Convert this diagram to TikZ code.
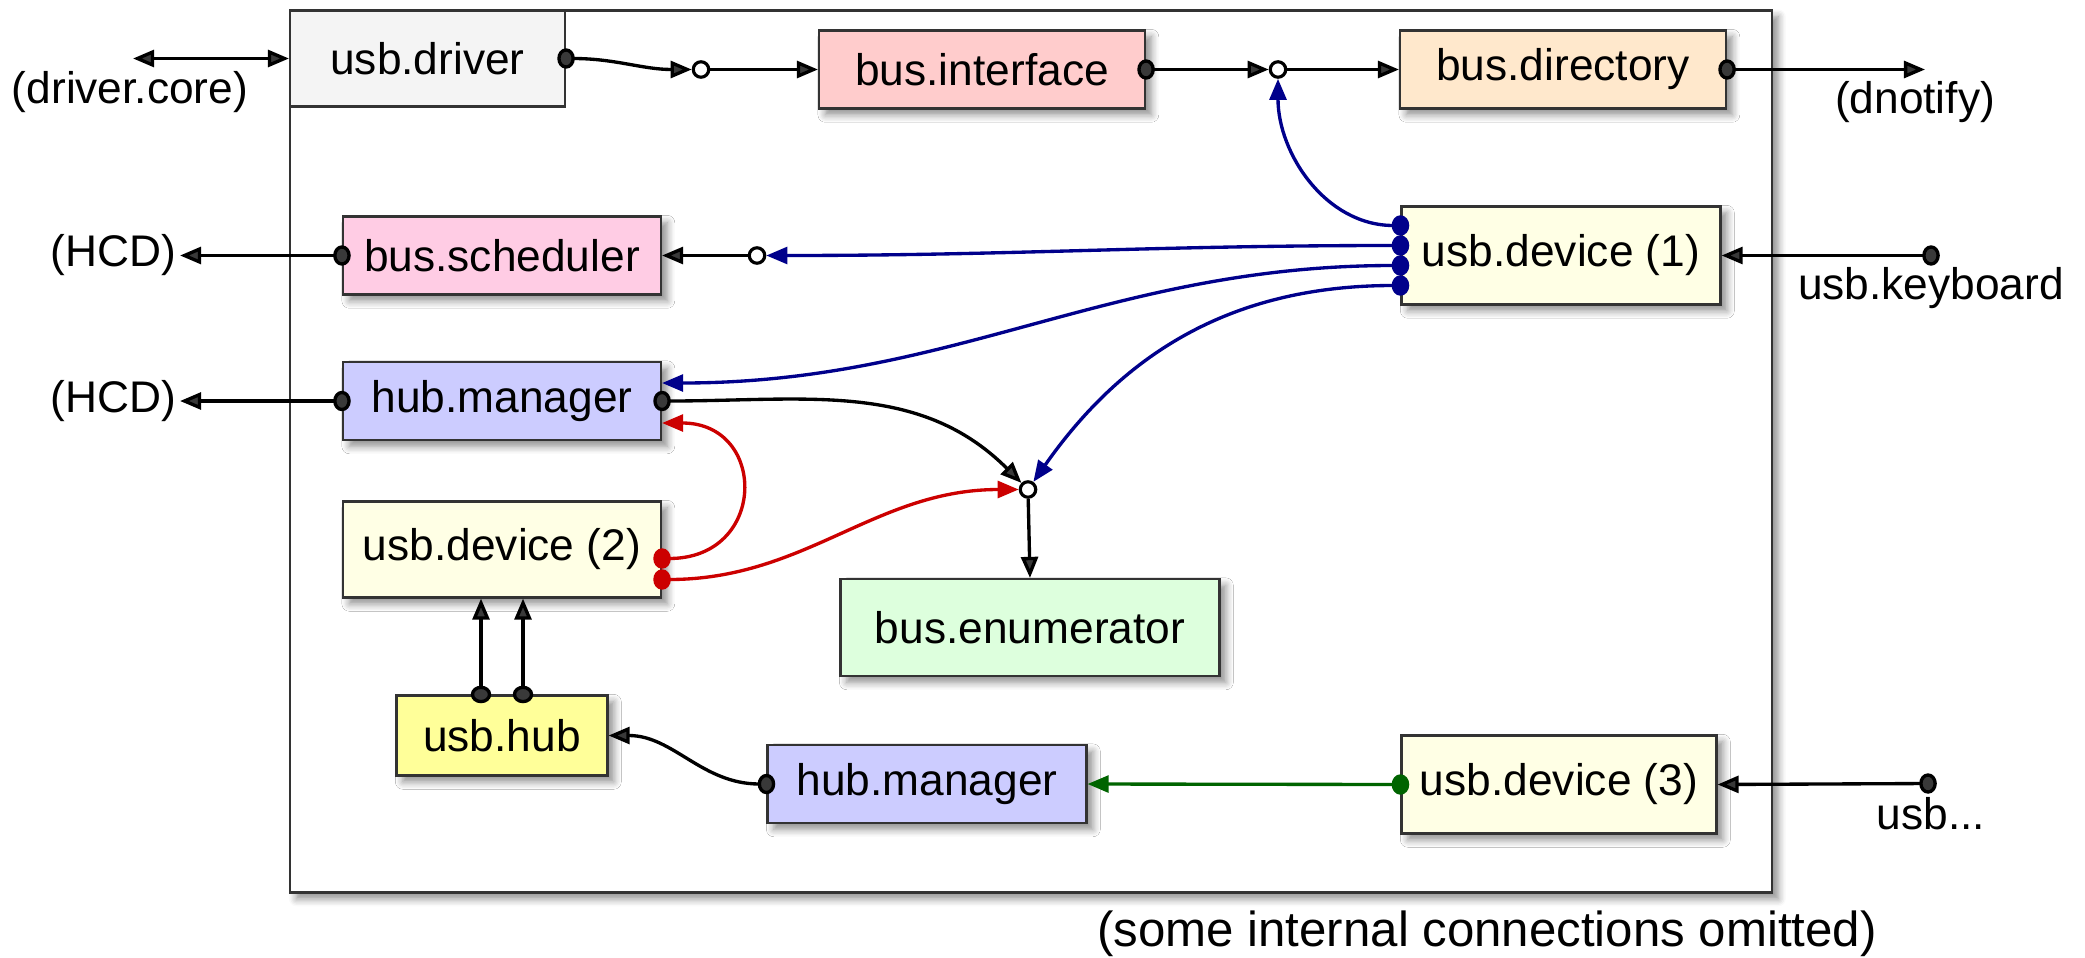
\documentclass[tikz,border=0pt]{standalone}
\usepackage{fontspec}
\setmainfont{Liberation Sans}
\usetikzlibrary{arrows.meta, shadows.blur}

\definecolor{drvfill}{HTML}{F4F4F4}
\definecolor{ifacefill}{HTML}{FFCCCC}
\definecolor{dirfill}{HTML}{FFE8CC}
\definecolor{schedfill}{HTML}{FFCCE4}
\definecolor{hubmfill}{HTML}{CCCCFF}
\definecolor{devfill}{HTML}{FFFFE5}
\definecolor{enumfill}{HTML}{DDFFDD}
\definecolor{hubfill}{HTML}{FFFF99}
\definecolor{linkblue}{HTML}{00008B}
\definecolor{linkred}{HTML}{CC0000}
\definecolor{linkgreen}{HTML}{006400}

\tikzset{
  box/.style={draw=black!80, line width=0.6pt, minimum width=3.18cm,
    minimum height=0.78cm, inner sep=2pt, font=\fontsize{12.6}{15}\selectfont},
  lifted/.style={box, blur shadow={shadow xshift=1.8pt, shadow yshift=-1.8pt,
    shadow blur steps=6, shadow opacity=45}},
  jn/.style={circle, draw, fill=white, line width=0.9pt, inner sep=0pt, minimum size=4.4pt},
  wire/.style={line width=0.95pt, -{Triangle[length=6pt,width=4.8pt]}},
  plug/.style={line width=0.95pt, {Ellipse[length=5pt,width=5.8pt]}-{Triangle[length=6pt,width=4.8pt]},
    shorten <=-2.5pt},
  lbl/.style={font=\fontsize{12.6}{15}\selectfont, inner sep=1pt},
}

\begin{document}
\begin{tikzpicture}
  \useasboundingbox (0,0) rectangle (20.85,9.575);

  % the usb core frame
  \path[draw=black!80, line width=0.6pt, fill=white,
    blur shadow={shadow xshift=1.8pt, shadow yshift=-1.8pt, shadow blur steps=6, shadow opacity=45}]
    (2.90,0.65) rectangle (17.72,9.47);

  % boxes
  \node[box, fill=drvfill, minimum width=2.75cm, minimum height=0.96cm] (drv) at (4.275,8.99) {usb.driver};
  \node[lifted, fill=ifacefill, minimum width=3.26cm] (iface) at (9.82,8.88) {bus.interface};
  \node[lifted, fill=dirfill, minimum width=3.26cm] (dir) at (15.63,8.88) {bus.directory};
  \node[lifted, fill=schedfill] (sched) at (5.02,7.02) {bus.scheduler};
  \node[lifted, fill=devfill, minimum width=3.19cm, minimum height=0.98cm] (dev1) at (15.61,7.02) {usb.device (1)};
  \node[lifted, fill=hubmfill] (hubA) at (5.02,5.565) {hub.manager};
  \node[lifted, fill=devfill, minimum height=0.96cm] (dev2) at (5.02,4.08) {usb.device (2)};
  \node[lifted, fill=enumfill, minimum width=3.79cm, minimum height=0.97cm] (enum) at (10.30,3.30) {bus.enumerator};
  \node[lifted, fill=hubfill, minimum width=2.11cm, minimum height=0.80cm] (hub) at (5.02,2.22) {usb.hub};
  \node[lifted, fill=hubmfill, minimum width=3.19cm] (hubB) at (9.27,1.735) {hub.manager};
  \node[lifted, fill=devfill, minimum width=3.15cm, minimum height=0.98cm] (dev3) at (15.59,1.73) {usb.device (3)};

  % junctions
  \node[jn] (J1) at (7.01,8.88) {};
  \node[jn] (J2) at (12.78,8.88) {};
  \node[jn] (J4) at (7.57,7.02) {};
  \node[jn] (J3) at (10.28,4.68) {};

  % outside ends
  \coordinate (core) at (1.33,8.99);
  \coordinate (dnot) at (19.25,8.88);
  \coordinate (kbd) at (19.31,7.02);
  \coordinate (usbx) at (19.28,1.74);
  \node[lbl, anchor=north] (coreL) at (1.30,8.90) {(driver.core)};
  \node[lbl, anchor=north] (dnotL) at (19.15,8.80) {(dnotify)};
  \node[lbl, anchor=east] (hcdA) at (1.80,7.02) {(HCD)};
  \node[lbl, anchor=east] (hcdB) at (1.80,5.565) {(HCD)};
  \node[lbl, anchor=north] (kbdL) at (19.31,6.94) {usb.keyboard};
  \node[lbl, anchor=north] (usbxL) at (19.31,1.64) {usb...};
  \node[font=\fontsize{14}{17}\selectfont] (omit) at (14.87,0.24) {(some internal connections omitted)};

  % top row
  \draw[line width=0.95pt, {Triangle[length=6pt,width=4.8pt]}-{Triangle[length=6pt,width=4.8pt]}] (core) -- (drv.west);
  \draw[plug] (drv.east) to[out=0,in=180] (J1);
  \draw[wire] (J1) -- (iface.west);
  \draw[plug] (iface.east) -- (J2);
  \draw[wire] (J2) -- (dir.west);
  \draw[plug] (dir.east) -- (dnot);

  % host controller side
  \draw[wire] (J4) -- (sched.east);
  \draw[plug] (sched.west) -- (hcdA.east);
  \draw[plug] (hubA.west) -- (hcdB.east);

  % usb.device (1)
  \draw[plug] (kbd) -- (dev1.east);
  \draw[plug, linkblue] ([yshift=0.3cm]dev1.west) to[out=180,in=-90] (J2);
  \draw[plug, linkblue] ([yshift=0.1cm]dev1.west) to[out=180,in=0] (J4);
  \draw[plug, linkblue] ([yshift=-0.1cm]dev1.west) to[out=180,in=0] ([yshift=0.18cm]hubA.east);
  \draw[plug, linkblue] ([yshift=-0.3cm]dev1.west) to[out=180,in=55] (J3);

  % enumeration
  \draw[plug] (hubA.east) to[out=0,in=135] (J3);
  \draw[plug, linkred] ([yshift=-0.09cm]dev2.east) to[out=0,in=0,looseness=2] ([yshift=-0.22cm]hubA.east);
  \draw[plug, linkred] ([yshift=-0.30cm]dev2.east) to[out=0,in=180] (J3);
  \draw[wire] (J3) -- (enum.north);

  % hub and usb.device (3)
  \draw[plug] ([xshift=-0.21cm]hub.north) -- ([xshift=-0.21cm]dev2.south);
  \draw[plug] ([xshift=0.21cm]hub.north) -- ([xshift=0.21cm]dev2.south);
  \draw[plug] (hubB.west) to[out=180,in=0] (hub.east);
  \draw[plug, linkgreen] (dev3.west) -- (hubB.east);
  \draw[plug] (usbx) -- (dev3.east);
\end{tikzpicture}
\end{document}
